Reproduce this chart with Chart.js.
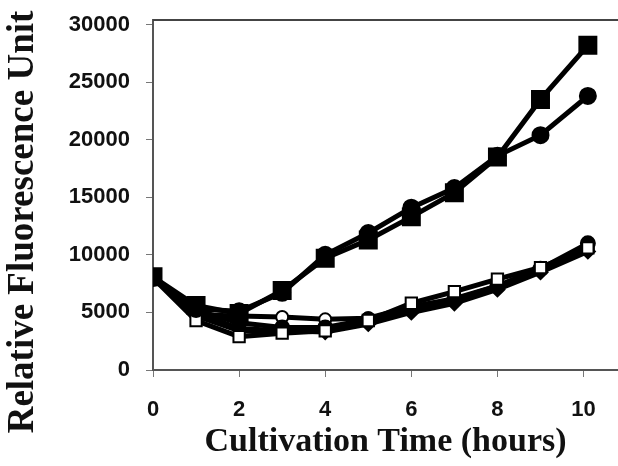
<!DOCTYPE html>
<html>
<head>
<meta charset="utf-8">
<script src="https://cdn.jsdelivr.net/npm/chart.js@4.4.0/dist/chart.umd.min.js"></script>
<style>
  html, body { margin: 0; padding: 0; background: #ffffff; overflow: hidden; }
  #wrap { width: 618px; height: 466px; }
</style>
</head>
<body>
<div id="wrap"><canvas id="chart" width="618" height="466"></canvas></div>
<script>
// sampling times (hours)
const hours = [0, 1, 2, 3, 4, 5, 6, 7, 8, 9, 10.1];

// fluorescence readings per strain
const filledSquareHigh = [8100, 5600, 4900, 6900, 9700, 11300, 13300, 15400, 18500, 23500, 28200];
const filledCircleHigh = [8000, 5300, 5100, 6700, 10000, 11900, 14100, 15800, 18600, 20400, 23800];
const openCircleLow    = [8000, 4800, 4700, 4600, 4400, 4500, 5500, 6200, 7300, 8800, 10500];
const openSquareLow    = [8000, 4300, 2900, 3200, 3400, 4300, 5800, 6800, 7900, 8900, 10600];
const filledCircleLow  = [8000, 5200, 4100, 3700, 3700, 4400, 5400, 6100, 7300, 8800, 11000];
const diamondLow       = [8000, 5000, 3600, 3400, 3300, 4000, 5000, 5800, 7000, 8500, 10300];
const crossLow         = [8000, 4700, 3400, 3300, 3500, 4200, 5200, 6000, 7100, 8600, 10400];

const yTicks = [0, 5000, 10000, 15000, 20000, 25000, 30000];
const xTicks = [0, 2, 4, 6, 8, 10];
const yTitle = 'Relative Fluorescence Unit';

function toPoints(values) {
    return values.map((v, i) => ({ x: hours[i], y: v }));
}

function series(values, style, radius, filled, order) {
    return {
        data: toPoints(values),
        showLine: true,
        borderColor: '#000000',
        borderWidth: 5,
        pointStyle: style,
        pointRadius: radius,
        pointBorderWidth: 2,
        pointBorderColor: '#000000',
        pointBackgroundColor: filled ? '#000000' : '#ffffff',
        order
    };
}

// top frame line + vertical axis title (sits a bit lower than the plot centre)
const frameAndTitle = {
    id: 'frameAndTitle',
    afterDraw(chart) {
        const { ctx, chartArea } = chart;
        ctx.save();
        ctx.strokeStyle = '#444444';
        ctx.lineWidth = 2;
        ctx.beginPath();
        ctx.moveTo(chartArea.left, chartArea.top);
        ctx.lineTo(chartArea.right, chartArea.top);
        ctx.stroke();

        ctx.translate(23, 222);
        ctx.rotate(-Math.PI / 2);
        ctx.fillStyle = '#111111';
        ctx.font = 'bold 37px "Liberation Serif"';
        ctx.textAlign = 'center';
        ctx.textBaseline = 'middle';
        ctx.fillText(yTitle, 0, 0);
        ctx.restore();
    }
};

new Chart(document.getElementById('chart'), {
    type: 'scatter',
    data: {
        datasets: [
            series(filledSquareHigh, 'rect', 12, true, 1),
            series(filledCircleHigh, 'circle', 8, true, 2),
            series(openCircleLow, 'circle', 6, false, 7),
            series(openSquareLow, 'rect', 8, false, 3),
            series(filledCircleLow, 'circle', 7, true, 4),
            series(diamondLow, 'rectRot', 7, true, 5),
            series(crossLow, 'crossRot', 6, true, 6)
        ]
    },
    options: {
        responsive: false,
        animation: false,
        layout: { autoPadding: false, padding: { top: 20, right: 0, left: 0, bottom: 0 } },
        plugins: {
            legend: { display: false },
            tooltip: { enabled: false }
        },
        scales: {
            x: {
                type: 'linear',
                min: 0,
                max: 10.8,
                afterBuildTicks: axis => { axis.ticks = xTicks.map(v => ({ value: v })); },
                afterFit: axis => { axis.height = 96; axis.paddingLeft = 0; axis.paddingRight = 0; },
                grid: { drawOnChartArea: false, tickLength: 7, color: '#777777', lineWidth: 1 },
                border: { display: true, color: '#555555', width: 2 },
                ticks: {
                    color: '#111111',
                    padding: 20,
                    maxRotation: 0,
                    callback: v => String(v),
                    font: { family: 'Liberation Sans', weight: 'bold', size: 22 }
                },
                title: {
                    display: true,
                    text: 'Cultivation Time (hours)',
                    color: '#111111',
                    padding: { top: 4, bottom: 3 },
                    font: { family: 'Liberation Serif', weight: 'bold', size: 34 }
                }
            },
            y: {
                min: 0,
                max: 30400,
                afterBuildTicks: axis => { axis.ticks = yTicks.map(v => ({ value: v })); },
                afterFit: axis => { axis.width = 153; axis.paddingTop = 0; axis.paddingBottom = 0; },
                grid: { drawOnChartArea: false, tickLength: 7, color: '#777777', lineWidth: 1 },
                border: { display: true, color: '#555555', width: 2 },
                ticks: {
                    color: '#111111',
                    padding: 16,
                    callback: v => String(v),
                    font: { family: 'Liberation Sans', weight: 'bold', size: 22 }
                }
            }
        }
    },
    plugins: [frameAndTitle]
});
</script>
</body>
</html>
